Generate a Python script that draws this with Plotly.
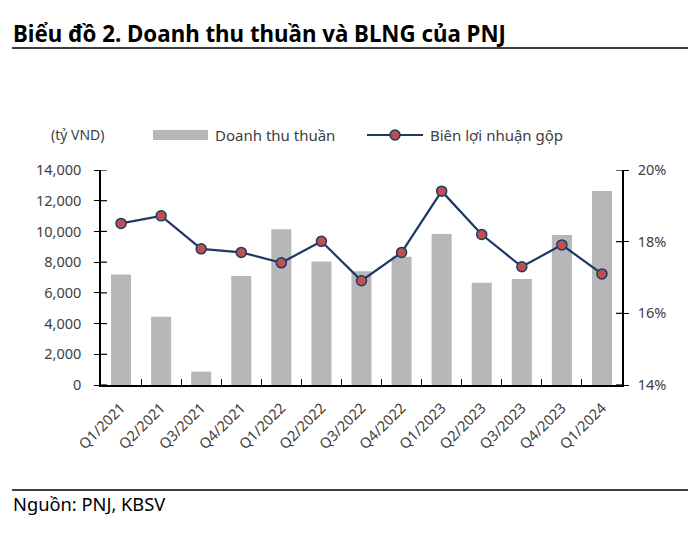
import plotly.graph_objects as go

categories = ["Q1/2021", "Q2/2021", "Q3/2021", "Q4/2021", "Q1/2022", "Q2/2022", "Q3/2022",
              "Q4/2022", "Q1/2023", "Q2/2023", "Q3/2023", "Q4/2023", "Q1/2024"]
revenue = [7200, 4450, 870, 7100, 10150, 8050, 7400, 8350, 9830, 6660, 6900, 9770, 12630]
gross_margin = [18.51, 18.72, 17.80, 17.70, 17.41, 18.01, 16.91, 17.70, 19.41, 18.20, 17.30, 17.91, 17.10]
left_ticks = [0, 2000, 4000, 6000, 8000, 10000, 12000, 14000]
right_ticks = [14, 16, 18, 20]
right_labels = ["14%", "16%", "18%", "20%"]

FONT = "Noto Sans"
TXT = "#404040"
BAR = "#B7B7B7"
NAVY = "#1F3864"
RED = "#C0504D"

# page body margin offset
OFF = 8
W, H = 700 - OFF, 535 - OFF
# plot area in page pixels
L, R, T, B = 101, 622, 170, 385
PW, PH = R - L, B - T


def px(x):
    return (x - L) / PW


def py(y):
    return (B - y) / PH


fig = go.Figure()
fig.add_trace(go.Bar(
    x=categories, y=revenue, name="Doanh thu thuần",
    marker=dict(color=BAR, line=dict(width=0)),
    yaxis="y", showlegend=False,
))
fig.add_trace(go.Scatter(
    x=categories, y=gross_margin, name="Biên lợi nhuận gộp",
    mode="lines+markers",
    line=dict(color=NAVY, width=2.2),
    marker=dict(color=RED, size=10, line=dict(color=NAVY, width=1.5)),
    yaxis="y2", showlegend=False, cliponaxis=False,
))

shapes = [
    dict(type="line", xref="paper", yref="paper", x0=px(12), x1=px(688),
         y0=py(48), y1=py(48), line=dict(color="black", width=1.5)),
    dict(type="line", xref="paper", yref="paper", x0=px(12), x1=px(688),
         y0=py(490), y1=py(490), line=dict(color="black", width=1.5)),
    # legend swatches
    dict(type="rect", xref="paper", yref="paper", x0=px(153), x1=px(208),
         y0=py(140), y1=py(130), fillcolor=BAR, line=dict(width=0)),
    dict(type="line", xref="paper", yref="paper", x0=px(367), x1=px(423),
         y0=py(135), y1=py(135), line=dict(color=NAVY, width=2.2)),
    dict(type="circle", xref="paper", yref="paper", x0=px(390), x1=px(400),
         y0=py(140), y1=py(130), fillcolor=RED, line=dict(color=NAVY, width=1.5)),
]
# inward halves of the crossing y-axis ticks
for v in left_ticks:
    shapes.append(dict(type="line", xref="paper", yref="y", x0=0, x1=6 / PW, y0=v, y1=v,
                       line=dict(color="black", width=1.2)))
for v in right_ticks:
    shapes.append(dict(type="line", xref="paper", yref="y2", x0=1, x1=1 - 6 / PW, y0=v, y1=v,
                       line=dict(color="black", width=1.2)))

fig.update_layout(
    width=W, height=H,
    margin=dict(l=L - OFF, r=700 - R, t=T - OFF, b=535 - B, autoexpand=False),
    paper_bgcolor="white", plot_bgcolor="white",
    font=dict(family=FONT, size=13, color=TXT),
    bargap=0.5,
    showlegend=False,
    xaxis=dict(
        type="category", range=[-0.5, len(categories) - 0.5],
        tickangle=-45, showline=True, linecolor="black", linewidth=1.5,
        ticks="inside", tickson="boundaries", ticklen=6, tickcolor="black",
        ticklabelstandoff=7,
        tickfont=dict(size=14.5, color=TXT), showgrid=False, zeroline=False, automargin=False,
    ),
    yaxis=dict(
        range=[0, 14000], tickvals=left_ticks, tickformat=",d",
        showline=True, linecolor="black", linewidth=1.5, ticks="outside", ticklen=5,
        tickcolor="black", showgrid=False, zeroline=False, automargin=False,
        ticklabelstandoff=10, tickfont=dict(size=14.5, color=TXT),
    ),
    yaxis2=dict(
        range=[14, 20], tickvals=right_ticks, ticktext=right_labels, overlaying="y", side="right",
        showline=True, linecolor="black", linewidth=1.5, ticks="outside", ticklen=5,
        tickcolor="black", showgrid=False, zeroline=False, automargin=False,
        ticklabelstandoff=6, tickfont=dict(size=14.5, color=TXT),
    ),
    annotations=[
        dict(text="<b>Biểu đồ 2. Doanh thu thuần và BLNG của PNJ</b>", xref="paper", yref="paper",
             x=px(11), y=py(33), xanchor="left", yanchor="middle", showarrow=False,
             font=dict(family=FONT, size=22.3, color="black")),
        dict(text="Nguồn: PNJ, KBSV", xref="paper", yref="paper",
             x=px(11), y=py(503), xanchor="left", yanchor="middle", showarrow=False,
             font=dict(family=FONT, size=18.3, color="black")),
        dict(text="(tỷ VND)", xref="paper", yref="paper",
             x=px(78), y=py(135), xanchor="center", yanchor="middle", showarrow=False,
             font=dict(family=FONT, size=14, color=TXT)),
        dict(text="Doanh thu thuần", xref="paper", yref="paper",
             x=px(213), y=py(135), xanchor="left", yanchor="middle", showarrow=False,
             font=dict(family=FONT, size=15, color=TXT)),
        dict(text="Biên lợi nhuận gộp", xref="paper", yref="paper",
             x=px(428), y=py(135), xanchor="left", yanchor="middle", showarrow=False,
             font=dict(family=FONT, size=15, color=TXT)),
    ],
    shapes=shapes,
)

fig.write_html("out.html")
